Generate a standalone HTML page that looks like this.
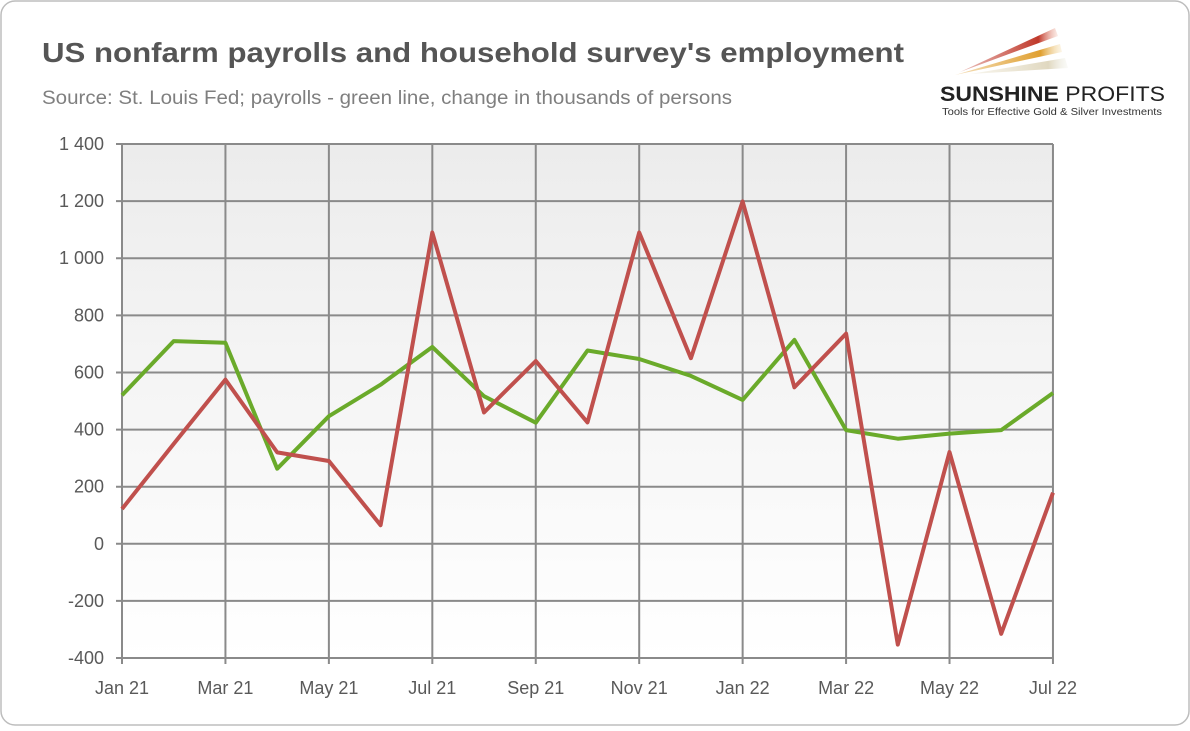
<!DOCTYPE html>
<html><head><meta charset="utf-8"><style>
body{margin:0;background:#fff;}
.f{font-family:"Liberation Sans",Calibri,sans-serif;}
</style></head><body>
<svg width="1190" height="726" xmlns="http://www.w3.org/2000/svg" class="f">
<defs>
<linearGradient id="bg" x1="0" y1="0" x2="0" y2="1">
<stop offset="0" stop-color="#ececec"/><stop offset="1" stop-color="#ffffff"/>
</linearGradient>
<linearGradient id="r1" x1="0" x2="1"><stop offset="0" stop-color="#c0392b" stop-opacity="0.3"/><stop offset="0.8" stop-color="#c0392b"/><stop offset="1" stop-color="#f3c0b0" stop-opacity="0.3"/></linearGradient>
<linearGradient id="r2" x1="0" x2="1"><stop offset="0" stop-color="#e0a030" stop-opacity="0.3"/><stop offset="0.8" stop-color="#e0a030"/><stop offset="1" stop-color="#f5dfb0" stop-opacity="0.3"/></linearGradient>
<linearGradient id="r3" x1="0" x2="1"><stop offset="0" stop-color="#e8e0c8" stop-opacity="0.3"/><stop offset="0.8" stop-color="#e0d8c0"/><stop offset="1" stop-color="#f0f0e8" stop-opacity="0.3"/></linearGradient>
</defs>
<rect x="1" y="1" width="1188" height="724" rx="14" fill="#fff" stroke="#bdbdbd" stroke-width="1.5"/>
<text x="42" y="62" font-size="28" font-weight="bold" fill="#555" textLength="862" lengthAdjust="spacingAndGlyphs">US nonfarm payrolls and household survey's employment</text>
<text x="42" y="104" font-size="19" fill="#7f7f7f" textLength="690" lengthAdjust="spacingAndGlyphs">Source: St. Louis Fed; payrolls - green line, change in thousands of persons</text>
<polygon points="960,72 1055,28 1058,36" fill="url(#r1)"/>
<polygon points="955,75 1060,44 1062,52" fill="url(#r2)"/>
<polygon points="970,74 1065,58 1068,68" fill="url(#r3)"/>
<text x="940" y="101" font-size="21" font-weight="bold" fill="#222" textLength="225" lengthAdjust="spacingAndGlyphs">SUNSHINE <tspan font-weight="normal">PROFITS</tspan></text>
<text x="942" y="115" font-size="10" fill="#333" textLength="220" lengthAdjust="spacingAndGlyphs">Tools for Effective Gold &amp; Silver Investments</text>
<rect x="122" y="144" width="931" height="514" fill="url(#bg)"/>
<g stroke="#8a8a8a" stroke-width="2" fill="none" id="grid"></g>
<g id="lines"></g>
<g id="labels" font-size="18" fill="#595959"></g>
<script>
var ns="http://www.w3.org/2000/svg";
function X(i){return 122+i*51.72;}
function Y(v){return 543.8-v*0.28556;}
var g=document.getElementById('grid'),l=document.getElementById('labels');
function el(p,t,a,txt){var e=document.createElementNS(ns,t);for(var k in a)e.setAttribute(k,a[k]);if(txt!==undefined)e.textContent=txt;p.appendChild(e);return e;}
for(var v=-400;v<=1400;v+=200){var y=Y(v);el(g,'line',{x1:116,x2:1053,y1:y,y2:y});
el(l,'text',{x:104,y:y+6,'text-anchor':'end'},(v>=1000?'1\u00a0'+String(v).slice(1):String(v)));}
var ms=['Jan 21','Mar 21','May 21','Jul 21','Sep 21','Nov 21','Jan 22','Mar 22','May 22','Jul 22'];
for(var i=0;i<=18;i+=2){var x=X(i);el(g,'line',{x1:x,x2:x,y1:144,y2:664});
el(l,'text',{x:x,y:694,'text-anchor':'middle'},ms[i/2]);}
var gr=[520,710,704,263,447,557,689,517,424,677,647,588,504,714,398,368,386,398,528];
var rd=[122,350,575,320,290,65,1090,460,640,425,1090,650,1199,548,736,-353,321,-315,179];
function pl(d,c){var p=d.map(function(v,i){return X(i).toFixed(1)+','+Y(v).toFixed(1)}).join(' ');
el(document.getElementById('lines'),'polyline',{points:p,fill:'none',stroke:c,'stroke-width':4,'stroke-linejoin':'round'});}
pl(gr,'#6aaa2a');pl(rd,'#c0504d');
</script>
</svg>
</body></html>
